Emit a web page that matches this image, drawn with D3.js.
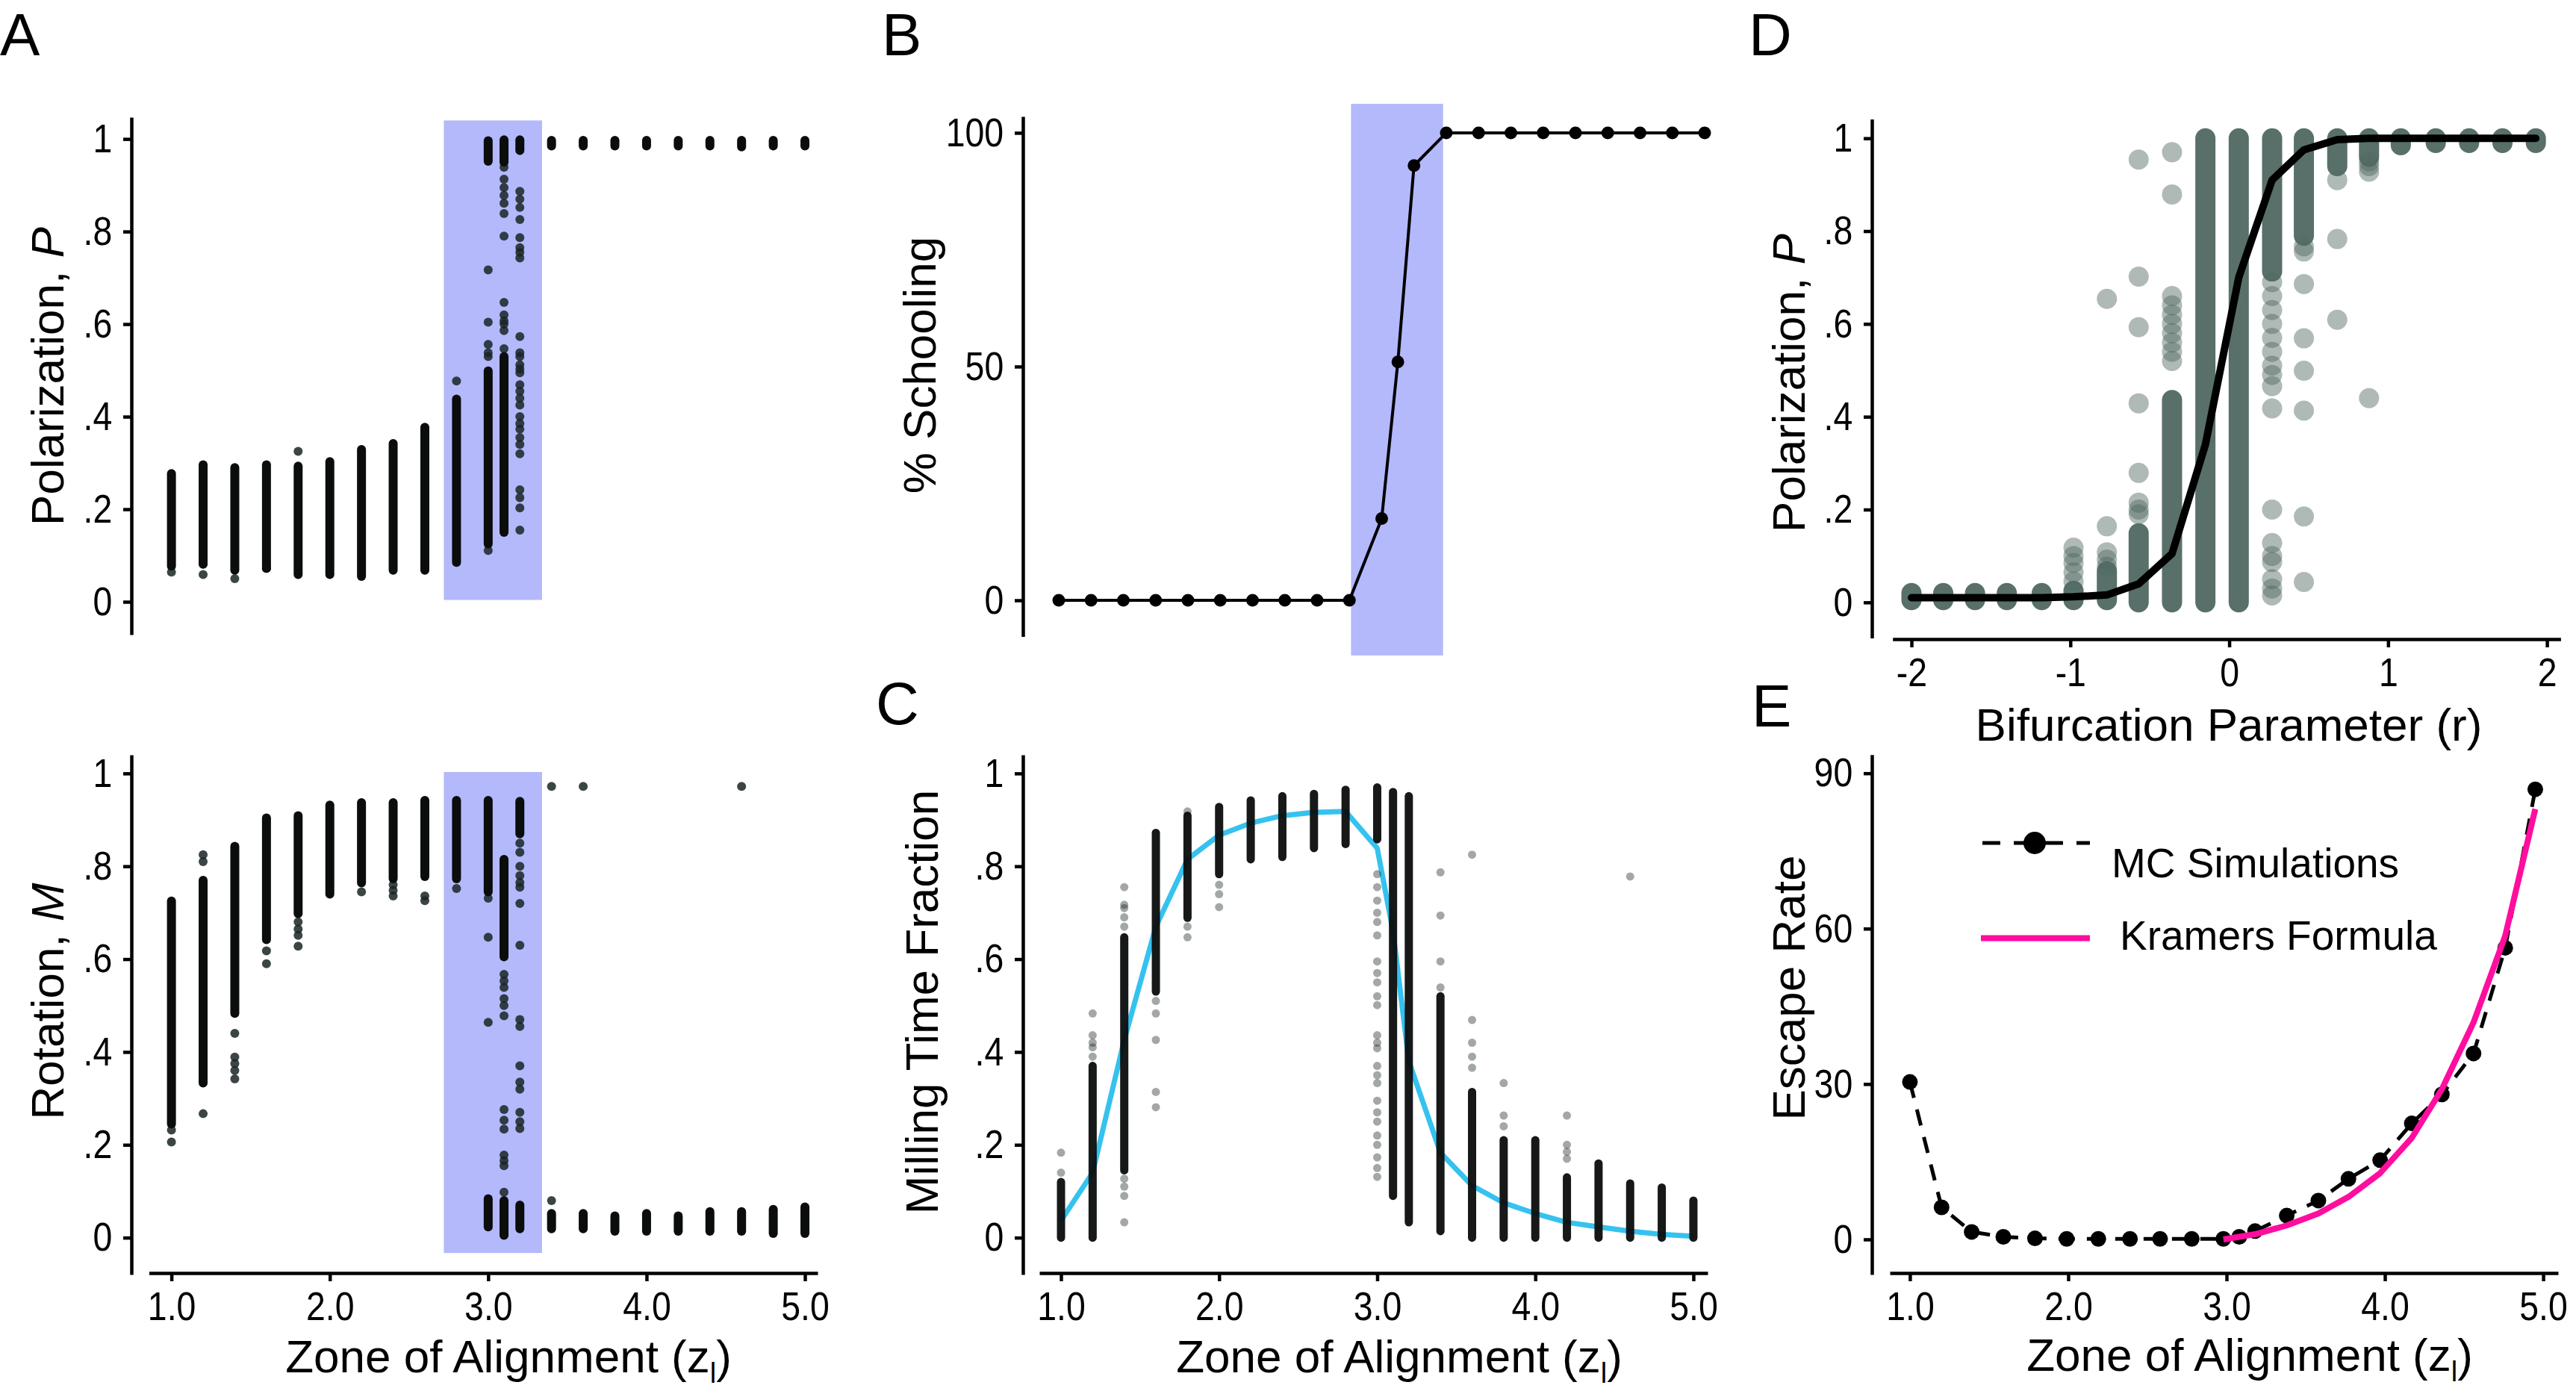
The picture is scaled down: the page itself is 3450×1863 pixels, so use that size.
<!DOCTYPE html>
<html><head><meta charset="utf-8">
<script src="https://cdn.jsdelivr.net/npm/d3@7"></script>
<style>html,body{margin:0;padding:0;background:#fff}svg{display:block}</style>
</head><body>
<script>
// ---------------- DATA ----------------
const zoneValues = [1.0,1.2,1.4,1.6,1.8,2.0,2.2,2.4,2.6,2.8,3.0,3.1,3.2,3.4,3.6,3.8,4.0,4.2,4.4,4.6,4.8,5.0];
const zoneTicks = [1,2,3,4,5];
const unitTicks = [0,0.2,0.4,0.6,0.8,1];
const schoolTicks = [0,50,100];
const escapeTicks = [0,30,60,90];
const bifTicks = [-2,-1,0,1,2];

// Panel A (top): polarization, dense runs [lo,hi] and single points per zone value
const polarizationRuns = [
 [[0.077,0.277]],[[0.081,0.296]],[[0.068,0.290]],[[0.072,0.296]],[[0.059,0.293]],
 [[0.059,0.303]],[[0.055,0.329]],[[0.068,0.342]],[[0.068,0.377]],[[0.085,0.438]],
 [[0.125,0.499],[0.952,0.996]],[[0.150,0.530],[0.950,0.998]],[[0.975,0.998]],
 [[0.985,0.997]],[[0.985,0.997]],[[0.985,0.997]],[[0.985,0.997]],[[0.985,0.997]],
 [[0.985,0.997]],[[0.983,0.997]],[[0.985,0.997]],[[0.985,0.997]]
];
const polarizationPoints = [
 [0.064],[0.059],[0.050],[0.072],[0.325],[],[],[],[],[0.477],
 [0.111,0.530,0.538,0.556,0.604,0.717],
 [0.939,0.913,0.895,0.878,0.861,0.839,0.790,0.647,0.620,0.607,0.600,0.586,0.547],
 [0.887,0.870,0.852,0.826,0.787,0.765,0.755,0.743,0.573,0.538,0.530,0.512,0.503,0.495,0.469,0.455,0.440,0.425,0.400,0.385,0.373,0.355,0.340,0.320,0.242,0.225,0.203,0.155],
 [],[],[],[],[],[],[],[],[]
];

// Panel A (bottom): rotation
const rotationRuns = [
 [[0.245,0.725]],[[0.333,0.770]],[[0.483,0.843]],[[0.642,0.904]],[[0.698,0.909]],
 [[0.740,0.932]],[[0.764,0.937]],[[0.773,0.937]],[[0.778,0.942]],[[0.773,0.942]],
 [[0.745,0.942],[0.023,0.084]],[[0.605,0.815],[0.005,0.080]],[[0.870,0.940],[0.019,0.070]],
 [[0.019,0.052]],[[0.019,0.052]],[[0.014,0.047]],[[0.014,0.052]],[[0.014,0.047]],
 [[0.014,0.056]],[[0.014,0.056]],[[0.009,0.061]],[[0.009,0.066]]
];
const rotationPoints = [
 [0.232,0.206],[0.810,0.825,0.267],[0.440,0.389,0.375,0.360,0.342],[0.618,0.590],
 [0.680,0.665,0.651,0.628],[],[0.745],[0.760,0.748,0.736],[0.736,0.726],[0.752],
 [0.731,0.647,0.464],
 [0.567,0.553,0.539,0.515,0.500,0.478,0.276,0.253,0.234,0.178,0.166,0.155,0.098],
 [0.850,0.830,0.800,0.780,0.765,0.755,0.720,0.630,0.470,0.455,0.370,0.335,0.320,0.270,0.250,0.235],
 [0.080,0.972],[0.972],[],[],[],[],[0.972],[],[]
];

// Panel B: % schooling
const schooling = [0,0,0,0,0,0,0,0,0,0,17.5,51,93,100,100,100,100,100,100,100,100,100];

// Panel C: milling time fraction
const millingRuns = [
 [[0.0,0.12]],[[0.0,0.37]],[[0.145,0.647]],[[0.53,0.872]],[[0.689,0.909]],
 [[0.783,0.928]],[[0.815,0.942]],[[0.82,0.951]],[[0.839,0.956]],[[0.848,0.965]],
 [[0.858,0.97]],[[0.09,0.96]],[[0.033,0.951]],[[0.014,0.52]],[[0.0,0.314]],
 [[0.0,0.21]],[[0.0,0.21]],[[0.0,0.13]],[[0.0,0.16]],[[0.0,0.117]],[[0.0,0.108]],[[0.0,0.08]]
];
const millingPoints = [
 [0.14,0.183],[0.39,0.41,0.42,0.436,0.483],[0.127,0.11,0.09,0.033,0.67,0.69,0.71,0.717,0.755],
 [0.51,0.483,0.426,0.314,0.281],[0.67,0.647,0.918],[0.76,0.74,0.712],[],[],[],[],
 [0.783,0.755,0.726,0.70,0.68,0.651,0.595,0.57,0.55,0.52,0.501,0.436,0.42,0.408,0.37,0.35,0.333,0.295,0.27,0.25,0.22,0.20,0.173,0.15,0.131],
 [],[],[0.787,0.694,0.595,0.539],[0.825,0.469,0.42,0.39,0.366],[0.333,0.263,0.24],[],
 [0.263,0.2,0.185,0.17],[],[0.778],[],[]
];
const millingFit = [0.037,0.14,0.426,0.67,0.815,0.867,0.893,0.909,0.916,0.918,0.839,0.66,0.38,0.183,0.112,0.075,0.052,0.033,0.023,0.014,0.007,0.003];

// Panel D: polarization vs bifurcation parameter
const bifR = [-2.0,-1.8,-1.6,-1.4,-1.18,-0.98,-0.77,-0.57,-0.36,-0.15,0.06,0.27,0.47,0.68,0.88,1.08,1.3,1.51,1.72,1.93];
const bifRuns = [
 [[0.005,0.02]],[[0.005,0.02]],[[0.005,0.02]],[[0.005,0.02]],[[0.005,0.02]],[[0.005,0.025]],
 [[0.005,0.067]],[[0.0,0.149]],[[0.0,0.436]],[[0.0,1.0]],[[0.0,1.0]],[[0.713,1.0]],[[0.79,1.0]],
 [[0.94,1.0]],[[0.96,1.0]],[[0.985,1.0]],[[0.99,1.0]],[[0.99,1.0]],[[0.99,1.0]],[[0.99,1.0]]
];
const bifPoints = [
 [],[],[],[],[],[0.045,0.065,0.085,0.1,0.118],[0.077,0.092,0.108,0.164,0.654],
 [0.19,0.2,0.215,0.279,0.429,0.593,0.702,0.954],
 [0.52,0.54,0.56,0.58,0.6,0.62,0.64,0.66,0.879,0.97],[],[],
 [0.69,0.66,0.63,0.6,0.57,0.54,0.51,0.49,0.466,0.418,0.2,0.128,0.1,0.087,0.05,0.03,0.015],
 [0.767,0.756,0.686,0.569,0.499,0.413,0.185,0.044],[0.91,0.783,0.609],[0.95,0.94,0.928,0.44],
 [],[],[],[],[]
];
const bifCurve = [0.01,0.01,0.01,0.01,0.01,0.012,0.016,0.04,0.105,0.34,0.70,0.91,0.975,0.997,1.0,1.0,1.0,1.0,1.0,1.0];

// Panel E: escape rate
const escapeZone = [1.0,1.2,1.39,1.59,1.79,1.99,2.19,2.39,2.58,2.78,2.98,3.08,3.18,3.38,3.58,3.77,3.97,4.17,4.36,4.56,4.76,4.95];
const escapeMC = [30.4,6.2,1.45,0.5,0.2,0.1,0.1,0.1,0.1,0.1,0.1,0.5,1.6,4.6,7.5,11.7,15.3,22.4,28.0,35.9,56.3,86.9];
const kramersZone = [2.98,3.18,3.38,3.58,3.77,3.97,4.17,4.36,4.56,4.76,4.95];
const kramers = [0,1.0,2.7,5.0,8.2,12.8,19.6,29.0,41.9,58.6,83.1];
const legendLabels = ["MC Simulations","Kramers Formula"];

// transition bands (zone ranges)
const bandA = [2.72,3.34];
const bandB = [2.81,3.38];

// ---------------- DRAWING ----------------
const F = '"Liberation Sans", Arial, Helvetica, sans-serif';
const svg = d3.select("body").append("svg").attr("width",3450).attr("height",1863);
svg.append("rect").attr("width",3450).attr("height",1863).attr("fill","#fff");

// scales
const xA = d3.scaleLinear().domain([0.858,5.08]).range([199.5,1095]);
const yAtop = d3.scaleLinear().domain([-0.071,1.047]).range([850,157]);
const yAbot = d3.scaleLinear().domain([-0.0794,1.040]).range([1707,1011]);
const xB = d3.scaleLinear().domain([1,5]).range([1418,2283]);
const yB = d3.scaleLinear().domain([-7.75,103.5]).range([852.5,156]);
const xC = d3.scaleLinear().domain([0.863,5.09]).range([1392,2287]);
const yC = d3.scaleLinear().domain([-0.0794,1.040]).range([1707,1011]);
const xD = d3.scaleLinear().domain([-2.119,2.086]).range([2534.7,3429.4]);
const yD = d3.scaleLinear().domain([-0.0769,1.0415]).range([854.6,159.4]);
const xE = d3.scaleLinear().domain([0.873,5.094]).range([2531,3426]);
const yE = d3.scaleLinear().domain([-6.78,93.6]).range([1707,1010.7]);

const BAND = "#b3b9fb";
function band(x,y,zr,vr){
  svg.append("rect").attr("x",x(zr[0])).attr("width",x(zr[1])-x(zr[0]))
    .attr("y",y(vr[1])).attr("height",y(vr[0])-y(vr[1])).attr("fill",BAND);
}
band(xA,yAtop,bandA,[0.004,1.04]);
band(xA,yAbot,bandA,[-0.033,1.003]);
band(xB,yB,bandB,[-11.8,106.2]);

function styleAxis(a){
  a.attr("font-family",F).attr("font-size",54);
  a.select(".domain").attr("stroke","#000").attr("stroke-width",4.5);
  a.selectAll(".tick line").attr("stroke","#000").attr("stroke-width",4.5);
  a.selectAll(".tick text").attr("fill","#000").attr("transform","scale(0.86,1)");
}
function leftAxis(scale,x,ticks,fmt){
  const a = svg.append("g").attr("transform",`translate(${x},0)`)
    .call(d3.axisLeft(scale).tickValues(ticks).tickFormat(fmt).tickSize(11).tickSizeOuter(0).tickPadding(19));
  styleAxis(a);
}
function bottomAxis(scale,y,ticks,fmt){
  const a = svg.append("g").attr("transform",`translate(0,${y})`)
    .call(d3.axisBottom(scale).tickValues(ticks).tickFormat(fmt).tickSize(11).tickSizeOuter(0).tickPadding(14));
  styleAxis(a);
}
const fracFmt = d => d===0?"0":d===1?"1":d3.format(".1f")(d).replace("0.",".");
const intFmt = d => String(d);
const zoneFmt = d => d.toFixed(1);

leftAxis(yAtop,176,unitTicks,fracFmt);
leftAxis(yAbot,176,unitTicks,fracFmt);
bottomAxis(xA,1705,zoneTicks,zoneFmt);
leftAxis(yB,1370,schoolTicks,intFmt);
leftAxis(yC,1370,unitTicks,fracFmt);
bottomAxis(xC,1705,zoneTicks,zoneFmt);
leftAxis(yD,2507,unitTicks,fracFmt);
bottomAxis(xD,856,bifTicks,intFmt);
leftAxis(yE,2507,escapeTicks,intFmt);
bottomAxis(xE,1705,zoneTicks,zoneFmt);

// columns of dots: dense runs drawn as capsules, plus individual points
function columns(xv, runs, pts, x, y, r, runColor, runOp, ptColor, ptOp){
  const g = svg.append("g");
  const runData = xv.flatMap((v,i)=>(runs[i]||[]).map(s=>({v,lo:s[0],hi:s[1]})));
  const ptData = xv.flatMap((v,i)=>(pts[i]||[]).map(p=>({v,p})));
  g.selectAll("circle").data(ptData).join("circle")
    .attr("cx",d=>x(d.v)).attr("cy",d=>y(d.p)).attr("r",r)
    .attr("fill",ptColor).attr("fill-opacity",ptOp);
  g.selectAll("line").data(runData).join("line")
    .attr("x1",d=>x(d.v)).attr("x2",d=>x(d.v)).attr("y1",d=>y(d.lo)).attr("y2",d=>y(d.hi))
    .attr("stroke",runColor).attr("stroke-opacity",runOp).attr("stroke-width",2*r).attr("stroke-linecap","round");
}

// Panel A
columns(zoneValues,polarizationRuns,polarizationPoints,xA,yAtop,6,"#0b0d0d",1,"#1a2424",0.85);
columns(zoneValues,rotationRuns,rotationPoints,xA,yAbot,6,"#0b0d0d",1,"#1a2424",0.85);

// Panel B
const lineB = d3.line().x((d,i)=>xB(zoneValues[i])).y(d=>yB(d));
svg.append("path").datum(schooling).attr("d",lineB).attr("fill","none").attr("stroke","#000").attr("stroke-width",4).attr("stroke-linejoin","round");
svg.append("g").selectAll("circle").data(schooling).join("circle")
  .attr("cx",(d,i)=>xB(zoneValues[i])).attr("cy",d=>yB(d)).attr("r",8.5).attr("fill","#000");

// Panel C
const lineC = d3.line().x((d,i)=>xC(zoneValues[i])).y(d=>yC(d));
svg.append("path").datum(millingFit).attr("d",lineC).attr("fill","none").attr("stroke","#36c2ee").attr("stroke-width",7).attr("stroke-linejoin","round");
columns(zoneValues,millingRuns,millingPoints,xC,yC,5.5,"#0b0d0d",0.95,"#1a2424",0.4);

// Panel D
columns(bifR,bifRuns,bifPoints,xD,yD,13.5,"#506862",0.95,"#4e6760",0.45);
const lineD = d3.line().x((d,i)=>xD(bifR[i])).y(d=>yD(d));
svg.append("path").datum(bifCurve).attr("d",lineD).attr("fill","none").attr("stroke","#000").attr("stroke-width",10).attr("stroke-linejoin","round").attr("stroke-linecap","round");

// Panel E
const lineE = d3.line().x((d,i)=>xE(escapeZone[i])).y(d=>yE(d));
svg.append("path").datum(escapeMC).attr("d",lineE).attr("fill","none").attr("stroke","#000").attr("stroke-width",5).attr("stroke-dasharray","22,16");
svg.append("g").selectAll("circle").data(escapeMC).join("circle")
  .attr("cx",(d,i)=>xE(escapeZone[i])).attr("cy",d=>yE(d)).attr("r",10.5).attr("fill","#000");
const lineK = d3.line().x((d,i)=>xE(kramersZone[i])).y(d=>yE(d));
const PINK = "#ff0d9e";
svg.append("path").datum(kramers).attr("d",lineK).attr("fill","none").attr("stroke",PINK).attr("stroke-width",8).attr("stroke-linejoin","round");

// legend E
svg.append("line").attr("x1",2655).attr("x2",2799).attr("y1",1129).attr("y2",1129).attr("stroke","#000").attr("stroke-width",5).attr("stroke-dasharray","24,18");
svg.append("circle").attr("cx",2725).attr("cy",1129).attr("r",15).attr("fill","#000");
svg.append("line").attr("x1",2653).attr("x2",2799).attr("y1",1256.5).attr("y2",1256.5).attr("stroke",PINK).attr("stroke-width",8);
svg.append("text").attr("x",2828).attr("y",1175).attr("font-family",F).attr("font-size",55).text(legendLabels[0]);
svg.append("text").attr("x",2839).attr("y",1272).attr("font-family",F).attr("font-size",55).text(legendLabels[1]);

// titles
function yTitle(x,y,parts){
  const t = svg.append("text").attr("transform",`translate(${x},${y}) rotate(-90)`)
    .attr("text-anchor","middle").attr("font-family",F).attr("font-size",62).attr("fill","#000");
  parts.forEach(([s,it])=>t.append("tspan").attr("font-style",it?"italic":"normal").text(s));
}
yTitle(85,504,[["Polarization, ",false],["P",true]]);
yTitle(85,1341,[["Rotation, ",false],["M",true]]);
yTitle(1253,489,[["% Schooling",false]]);
yTitle(1256,1342,[["Milling Time Fraction",false]]);
yTitle(2417,513,[["Polarization, ",false],["P",true]]);
yTitle(2417,1323,[["Escape Rate",false]]);

function zoneTitle(cx,y){
  const t = svg.append("text").attr("x",cx).attr("y",y).attr("text-anchor","middle")
    .attr("font-family",F).attr("font-size",62).attr("fill","#000");
  t.append("tspan").text("Zone of Alignment (z");
  t.append("tspan").attr("font-size",38).attr("dy",14).text("l");
  t.append("tspan").attr("dy",-14).text(")");
}
zoneTitle(681,1838);
zoneTitle(1874,1838);
zoneTitle(3013,1836);
svg.append("text").attr("x",2985).attr("y",992).attr("text-anchor","middle")
  .attr("font-family",F).attr("font-size",62).text("Bifurcation Parameter (r)");

// panel letters
const letters = [["A",0,74],["B",1181,74],["C",1173,970],["D",2342,74],["E",2346,973]];
svg.append("g").selectAll("text").data(letters).join("text")
  .attr("x",d=>d[1]).attr("y",d=>d[2]).attr("font-family",F).attr("font-size",80).attr("fill","#000").text(d=>d[0]);
</script>
</body></html>
